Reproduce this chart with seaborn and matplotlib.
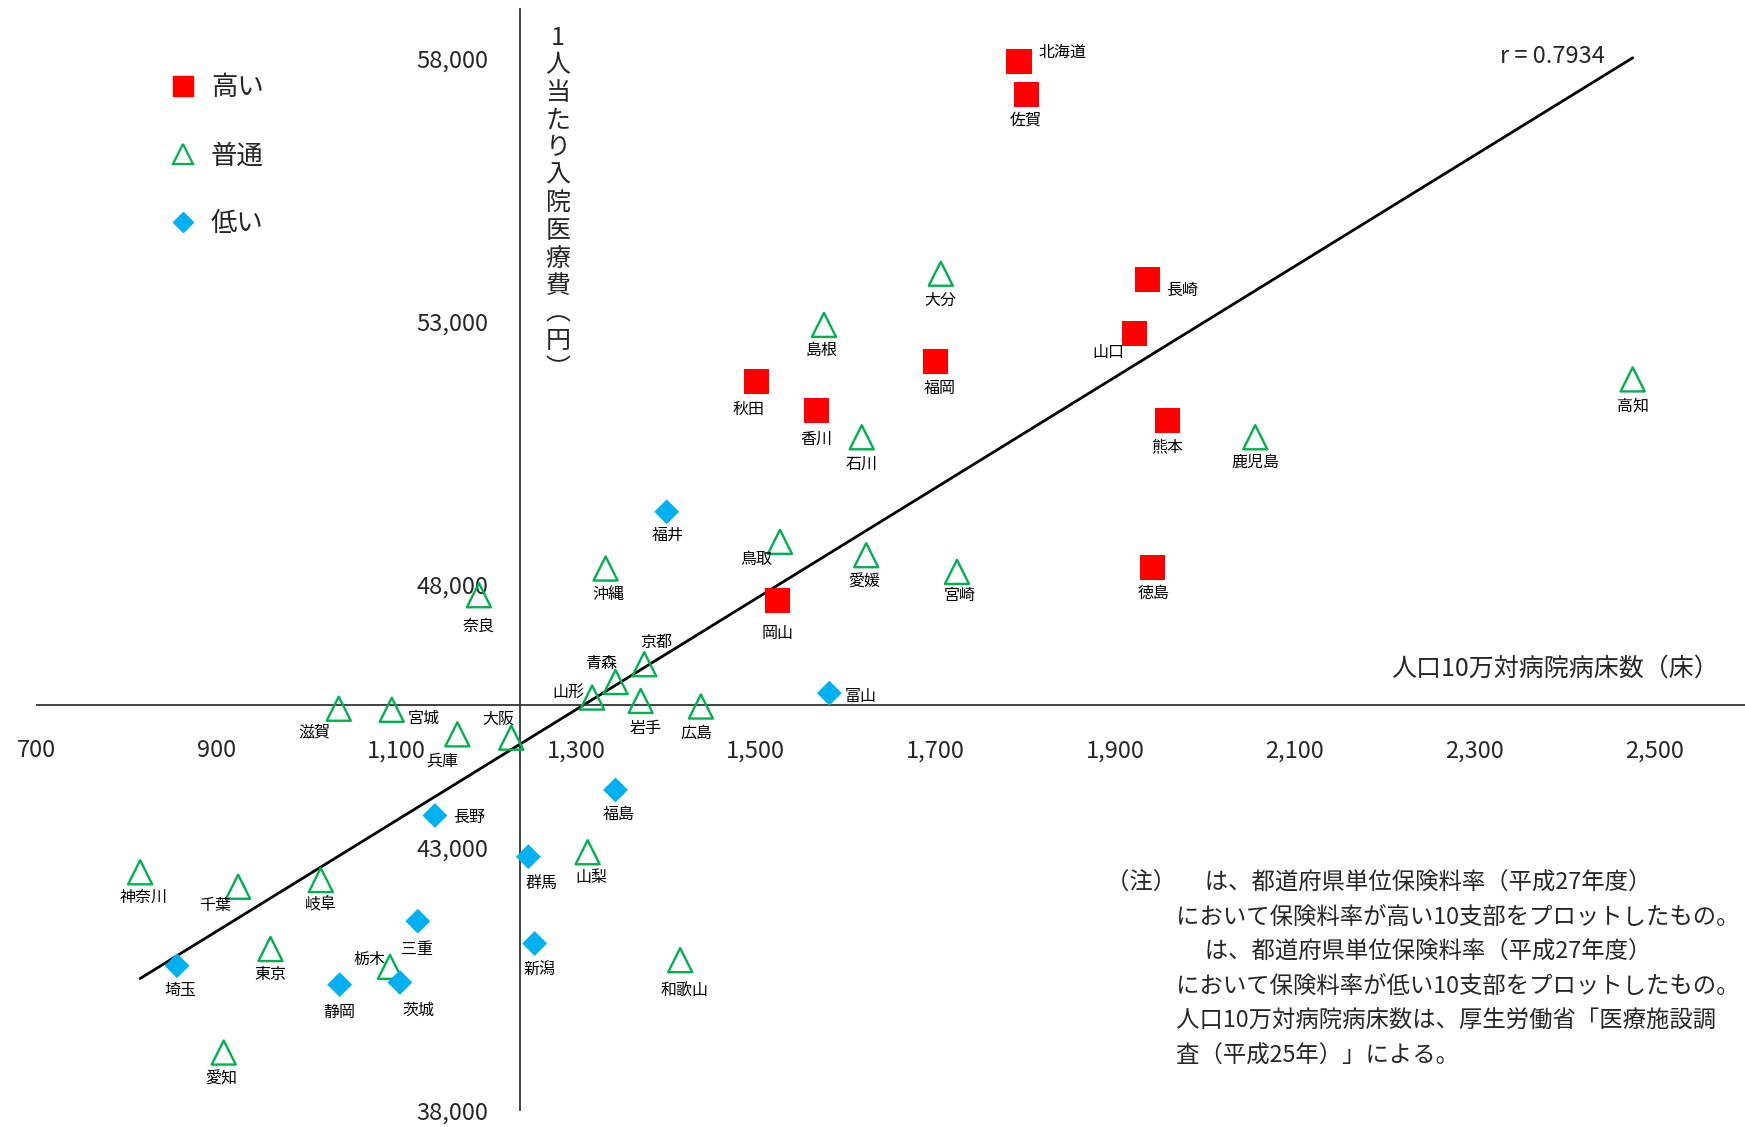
import matplotlib
matplotlib.use("Agg")
import matplotlib.pyplot as plt
import seaborn as sns
import numpy as np
import pandas as pd
from matplotlib.lines import Line2D

sns.set_theme(style="white")
plt.rcParams['font.family'] = ['Noto Sans CJK JP', 'DejaVu Sans']

high_names = ["北海道","佐賀","長崎","山口","福岡","秋田","香川","熊本","徳島","岡山"]
high_x = [1793,1801,1936,1922,1700,1501,1568,1958,1942,1524]
high_y = [57958,57323,53810,52772,52243,51862,51312,51122,48328,47693]

mid_names = ["大分","島根","高知","石川","鹿児島","鳥取","愛媛","宮崎","沖縄","奈良","青森","京都","山形","岩手","広島",
             "滋賀","宮城","兵庫","大阪","山梨","神奈川","岐阜","千葉","東京","栃木","和歌山","愛知"]
mid_x = [1706,1576,2476,1618,2056,1527,1623,1724,1333,1192,1344,1376,1318,1372,1439,
         1036,1095,1168,1228,1313,815,1016,924,960,1093,1416,908]
mid_y = [53915,52942,51905,50804,50804,48815,48561,48243,48307,47799,46148,46487,45852,45788,45682,
         45640,45619,45153,45090,42910,42529,42381,42254,41069,40730,40857,39100]

low_names = ["福井","富山","福島","長野","群馬","三重","新潟","埼玉","静岡","茨城"]
low_x = [1401,1582,1344,1143,1247,1124,1254,856,1037,1104]
low_y = [49386,45936,44095,43608,42825,41598,41174,40751,40391,40433]

offs = {"北海道":(39,-8),"佐賀":(0,23),"長崎":(31,10),"山口":(-24,17),"福岡":(4,24),"秋田":(-7,25),
        "香川":(0,26),"熊本":(0,24),"徳島":(1,23),"岡山":(0,29),"大分":(0,24),"島根":(-2,23),"高知":(0,24),
        "石川":(0,24),"鹿児島":(0,23),"鳥取":(-21,16),"愛媛":(-2,24),"宮崎":(2,21),"沖縄":(2,23),"奈良":(0,28),
        "青森":(-13,-17),"京都":(11,-20),"山形":(-21,-5),"岩手":(4,25),"広島":(-4,24),"滋賀":(-22,21),
        "宮城":(29,8),"兵庫":(-14,24),"大阪":(-12,-16),"山梨":(3,23),"神奈川":(3,23),"岐阜":(0,22),
        "千葉":(-21,17),"東京":(0,23),"栃木":(-18,-7),"和歌山":(4,27),"愛知":(-2,24),"福井":(1,21),
        "富山":(28,3),"福島":(3,22),"長野":(31,2),"群馬":(12,24),"三重":(-1,25),"新潟":(4,24),
        "埼玉":(3,22),"静岡":(0,25),"茨城":(17,25)}
PX = 0.72 / 0.8986

fig = plt.figure(figsize=(17.45, 11.27), dpi=100)
ax = fig.add_axes([0, 0, 1, 1])
ax.set_xlim(659, 2601)
ax.set_ylim(37683, 59122)

ax_all = np.array(high_x + mid_x + low_x, float)
ay_all = np.array(high_y + mid_y + low_y, float)
k, b = np.polyfit(ax_all, ay_all, 1)
xs = np.array([ax_all.min(), ax_all.max()])
ax.plot(xs, k * xs + b, color="black", lw=2, zorder=1)

sns.scatterplot(x=high_x, y=high_y, marker="s", s=330, color="#FF0000", edgecolor="none", ax=ax, zorder=3)
sns.scatterplot(x=mid_x, y=mid_y, marker="^", s=300, facecolor="none", edgecolor="#00B050", linewidth=1.7, ax=ax, zorder=3)
sns.scatterplot(x=low_x, y=low_y, marker="D", s=160, color="#00B0F0", edgecolor="none", ax=ax, zorder=3)

for names, xv, yv in [(high_names, high_x, high_y), (mid_names, mid_x, mid_y), (low_names, low_x, low_y)]:
    for n, x, y in zip(names, xv, yv):
        dx, dy = offs[n]
        ax.annotate(n, (x, y), xytext=(dx * PX, -dy * PX), textcoords="offset points",
                    ha="center", va="center", fontsize=11.5, color="black")

for s in ["top", "right"]:
    ax.spines[s].set_visible(False)
ax.spines["left"].set_position(("data", 1237.5))
ax.spines["bottom"].set_position(("data", 45704))
ax.spines["left"].set_bounds(38000, 58950)
ax.spines["bottom"].set_bounds(700, 2601)
for s in ["left", "bottom"]:
    ax.spines[s].set_color("#333333")
    ax.spines[s].set_linewidth(1.3)
xt = [700, 900, 1100, 1300, 1500, 1700, 1900, 2100, 2300, 2500]
yt = [38000, 43000, 48000, 53000, 58000]
ax.set_xticks(xt)
ax.set_xticklabels([f"{v:,}" for v in xt], fontsize=17)
ax.set_yticks(yt)
ax.set_yticklabels([f"{v:,}" for v in yt], fontsize=17)
ax.tick_params(axis="both", which="both", direction="inout", length=9, width=1.3, color="#333333", pad=18)
ax.tick_params(axis="x", pad=20)
ax.grid(False)

ax.text(1280, 58650, "1\n人\n当\nた\nり\n入\n院\n医\n療\n費\n︵\n円\n︶", ha="center", va="top",
        fontsize=18, linespacing=1.08)
ax.text(2390, 46400, "人口10万対病院病床数（床）", ha="center", va="center", fontsize=18)
ax.text(2445, 58050, "r = 0.7934", ha="right", va="center", fontsize=17)

handles = [Line2D([], [], marker="s", ls="", color="#FF0000", ms=14),
           Line2D([], [], marker="^", ls="", mfc="none", mec="#00B050", ms=14, mew=1.6),
           Line2D([], [], marker="D", ls="", color="#00B0F0", ms=10)]
ax.legend(handles, ["高い", "普通", "低い"], loc="upper left", bbox_to_anchor=(0.08, 0.955),
          frameon=False, fontsize=19, labelspacing=1.55, handletextpad=0.3, handlelength=1.5)

note = ["（注）　 は、都道府県単位保険料率（平成27年度）",
        "　　　において保険料率が高い10支部をプロットしたもの。",
        "　　　　 は、都道府県単位保険料率（平成27年度）",
        "　　　において保険料率が低い10支部をプロットしたもの。",
        "　　　人口10万対病院病床数は、厚生労働省「医療施設調",
        "　　　査（平成25年）」による。"]
for i, line in enumerate(note):
    fig.text(994 / 1568, 1 - (794 + i * 31) / 1013, line, fontsize=16.8, va="center", ha="left")

fig.savefig("out.png", dpi=100)
